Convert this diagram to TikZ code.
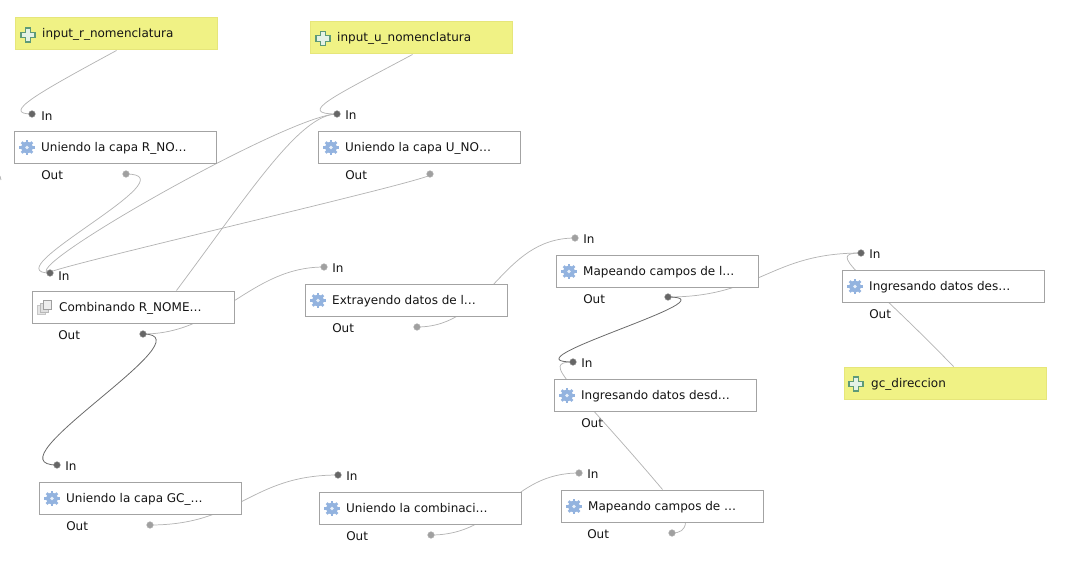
\documentclass[tikz,border=0pt]{standalone}
\usepackage{fontspec}
\setmainfont{DejaVu Sans}
\usetikzlibrary{calc,backgrounds}
\definecolor{boxline}{HTML}{A3A3A3}
\definecolor{yelfill}{HTML}{F0F285}
\definecolor{yelline}{HTML}{E6E67A}
\definecolor{edgelight}{HTML}{B4B4B4}
\definecolor{edgedark}{HTML}{6A6A6A}
\definecolor{portdark}{HTML}{666666}
\definecolor{portlight}{HTML}{A0A0A0}
\definecolor{gearblue}{HTML}{93B3DF}
\definecolor{plusgreen}{HTML}{5E9A78}
\definecolor{plusfill}{HTML}{E4F2E6}
\newcommand{\boxtxt}[1]{\makebox[151.5pt][l]{\hspace{20.4pt}\raisebox{-3pt}[0pt][0pt]{#1}}}
\tikzset{
  x=0.75pt,y=-0.75pt,
  every node/.style={font=\fontsize{9}{11}\selectfont,text=black!92},
  algobox/.style={rectangle,draw=boxline,line width=0.75pt,fill=white,inner sep=0pt,minimum width=151.5pt,minimum height=24pt,anchor=north west},
  inputbox/.style={algobox,draw=yelline,fill=yelfill},
  portd/.style={circle,inner sep=0pt,minimum size=5pt,fill=portdark,draw=portdark!70!white,line width=0.3pt},
  portl/.style={circle,inner sep=0pt,minimum size=5pt,fill=portlight,draw=portlight!80!white,line width=0.3pt},
  plabel/.style={anchor=west,inner sep=0pt},
  elight/.style={draw=edgelight,line width=0.55pt},
  edark/.style={draw=edgedark,line width=0.6pt},
  gearicon/.pic={
    \foreach \a in {0,45,...,315}{\draw[gearblue,line width=2pt] (0,0)--(\a:7.6);}
    \fill[gearblue] (0,0) circle (5.8);
    \fill[white!80!gearblue] (0,0) circle (1.8);
  },
  plusicon/.pic={
    \draw[plusgreen,fill=plusfill,line width=0.85pt]
      (-2.6,-7)--(2.6,-7)--(2.6,-2.6)--(7,-2.6)--(7,2.6)--(2.6,2.6)--(2.6,7)--(-2.6,7)--(-2.6,2.6)--(-7,2.6)--(-7,-2.6)--(-2.6,-2.6)--cycle;
  },
  groupicon/.pic={
    \draw[black!22,fill=black!10,line width=0.6pt] (-7,-2) rectangle (1,7);
    \draw[black!28,fill=black!12,line width=0.6pt] (-4.5,-4) rectangle (3.5,4.5);
    \draw[black!38,fill=black!7,line width=0.6pt] (-1.5,-7) rectangle (6.5,1.5);
  },
}
\begin{document}
\begin{tikzpicture}
\useasboundingbox (0,0) rectangle (1070,560);
% boxes
\node[inputbox] (inr) at (14.5,17.5) {\boxtxt{input\_r\_nomenclatura}};
\node[inputbox] (inu) at (309.5,21.5) {\boxtxt{input\_u\_nomenclatura}};
\node[inputbox] (gcd) at (843.5,366.5) {\boxtxt{gc\_direccion}};
\node[algobox] (ur) at (13.5,130.5) {\boxtxt{Uniendo la capa R\_NO…}};
\node[algobox] (uu) at (317.5,130.5) {\boxtxt{Uniendo la capa U\_NO…}};
\node[algobox] (co) at (31.5,290.5) {\boxtxt{Combinando R\_NOME…}};
\node[algobox] (ex) at (304.5,283.5) {\boxtxt{Extrayendo datos de l…}};
\node[algobox] (ma) at (555.5,254.5) {\boxtxt{Mapeando campos de l…}};
\node[algobox] (ia) at (841.5,269.5) {\boxtxt{Ingresando datos des…}};
\node[algobox] (ib) at (553.5,378.5) {\boxtxt{Ingresando datos desd…}};
\node[algobox] (ug) at (38.5,481.5) {\boxtxt{Uniendo la capa GC\_…}};
\node[algobox] (uc) at (318.5,491.5) {\boxtxt{Uniendo la combinaci…}};
\node[algobox] (mb) at (560.5,489.5) {\boxtxt{Mapeando campos de …}};
% icons
\pic at (28,35) {plusicon};
\pic at (323,38.5) {plusicon};
\pic at (856,384) {plusicon};
\pic at (27,147.5) {gearicon};
\pic at (331,147.5) {gearicon};
\pic at (318,300.5) {gearicon};
\pic at (569,271.5) {gearicon};
\pic at (855,286.5) {gearicon};
\pic at (567,395.5) {gearicon};
\pic at (52,498.5) {gearicon};
\pic at (332,508.5) {gearicon};
\pic at (574,506.5) {gearicon};
\pic at (44.5,307.5) {groupicon};
% ports
\foreach \n/\st/\px/\py/\lab/\lx/\ly in {
 pa/portd/32/114/In/41/116, pb/portl/126/174/Out/41/175,
 pc/portd/337/114/In/345/115, pd/portl/430/174/Out/345/175,
 pe/portd/50/273/In/58/276, pf/portd/143/334/Out/58/335.5,
 pg/portl/324/267/In/332/268, ph/portl/417/327/Out/332/328,
 pi/portl/575/238/In/583/239, pj/portd/668/297/Out/583/299,
 pk/portd/573/362/In/581/363, pl/portd/861/253/In/869/254,
 pm/portd/57/465/In/65/466, pn/portl/150/525/Out/66/526.5,
 po/portd/338/475/In/346/476, pp/portl/431/535/Out/346/536.5,
 pq/portl/579/473/In/587/474, pr/portl/672/533/Out/587/534.5}{
  \node[\st] (\n) at (\px,\py) {};
  \node[plabel] (l\n) at (\lx,\ly) {\lab};
}
\node[plabel] (lib) at (581,423.5) {Out};
\node[plabel] (lia) at (869,314.5) {Out};
\coordinate (ta) at (0,176);
\coordinate (tb) at (1,180);
% connectors, behind the boxes
\begin{scope}[on background layer]
\draw[elight] ($(inr.south west)+(102,0)$) .. controls (40,92) and (0,114) .. (pa.center);
\draw[elight] ($(inu.south west)+(103,0)$) .. controls (335,96) and (295,114) .. (pc.center);
\draw[elight] (pb.center) .. controls (195,174) and (-10,273) .. (pe.center);
\draw[elight] (pd.center) .. controls (460,174) and (25,273) .. (pe.center);
\draw[elight] (pe.center) .. controls (10,273) and (290,114) .. (pc.center);
\draw[elight] ($(co.north west)+(145,0)$) .. controls (250,192) and (300,114) .. (pc.center);
\draw[elight] (pf.center) .. controls (220,334) and (250,267) .. (pg.center);
\draw[edark] (pf.center) .. controls (212,334) and (-15,465) .. (pm.center);
\draw[elight] (ph.center) .. controls (490,327) and (500,238) .. (pi.center);
\draw[elight] (pj.center) .. controls (760,297) and (770,253) .. (pl.center);
\draw[edark] (pj.center) .. controls (738,297) and (500,362) .. (pk.center);
\draw[elight] ($(mb.north west)+(102,0)$) .. controls (570,380) and (540,362) .. (pk.center);
\draw[elight] ($(gcd.north west)+(110,0)$) .. controls (860,270) and (825,253) .. (pl.center);
\draw[elight] (pn.center) .. controls (240,525) and (250,475) .. (po.center);
\draw[elight] (pp.center) .. controls (500,535) and (510,473) .. (pq.center);
\draw[elight] (pr.center) .. controls (680,533) and (685,530) .. ($(mb.south west)+(125,0)$);
\draw[elight] (ta) -- (tb);
\end{scope}
\end{tikzpicture}
\end{document}
